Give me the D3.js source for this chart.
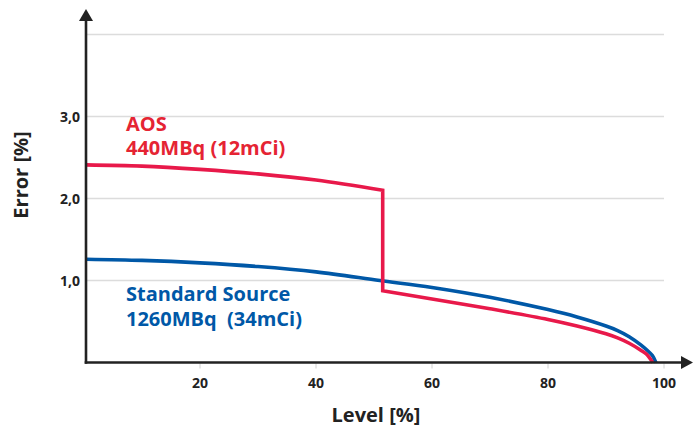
<!DOCTYPE html>
<html>
<head>
<meta charset="utf-8">
<script src="https://cdn.jsdelivr.net/npm/d3@7"></script>
<style>
  html, body { margin: 0; padding: 0; background: #fff; }
  svg { display: block; font-family: "Open Sans", "Noto Sans", sans-serif; }
</style>
</head>
<body>
<svg id="chart" width="693" height="427"></svg>
<script>
// ---- data ----
const xTicks = [20, 40, 60, 80, 100];
const xTickLabels = ["20", "40", "60", "80", "100"];
const yGrid = [1, 2, 3, 4];
const yTickValues = [1, 2, 3];
const yTickLabels = ["1,0", "2,0", "3,0"];

// AOS 440MBq (12mCi) – before the source switch
const aosHighLevel = [0.35, 10, 20, 30, 40, 51.5];
const aosHighError = [2.41, 2.395, 2.355, 2.30, 2.225, 2.10];
// AOS – after the switch
const aosLowLevel = [51.5, 60, 70, 80, 85, 90, 92, 94, 96, 97, 98.05];
const aosLowError = [0.875, 0.775, 0.655, 0.525, 0.445, 0.35, 0.30, 0.235, 0.15, 0.10, 0.0];

// Standard Source 1260MBq (34mCi)
const stdLevel = [0.35, 10, 20, 30, 40, 51, 60, 70, 80, 85, 90, 92, 94, 96, 97, 98, 98.6];
const stdError = [1.26, 1.245, 1.215, 1.17, 1.105, 1.00, 0.915, 0.795, 0.645, 0.555, 0.445, 0.39, 0.315, 0.215, 0.155, 0.085, 0.0];

const labels = {
  aos: ["AOS", "440MBq (12mCi)"],
  std: ["Standard Source", "1260MBq\u00a0 (34mCi)"]
};

// ---- drawing ----
const svg = d3.select("#chart");
const x = d3.scaleLinear().domain([0, 100]).range([84, 664]);
const y = d3.scaleLinear().domain([0, 4]).range([362.5, 34.5]);

const RED = "#e8194a";
const RED_TEXT = "#e52433";
const BLUE = "#0058a7";
const DARK = "#222222";

const axisX = x(0) + 2;
const axisY = y(0);

// gridlines
svg.append("g").selectAll("line").data(yGrid).join("line")
  .attr("x1", axisX).attr("x2", x(100))
  .attr("y1", d => y(d)).attr("y2", d => y(d))
  .attr("stroke", "#dcdcdc").attr("stroke-width", 1.5);

// x tick marks (light)
svg.append("g").selectAll("line").data(xTicks).join("line")
  .attr("x1", d => x(d)).attr("x2", d => x(d))
  .attr("y1", axisY + 1).attr("y2", axisY + 6)
  .attr("stroke", "#d0d0d0").attr("stroke-width", 1);

// x tick labels
svg.append("g").selectAll("text").data(xTicks).join("text")
  .attr("x", d => x(d)).attr("y", 388)
  .attr("text-anchor", "middle")
  .attr("font-size", 14).attr("font-weight", 700).attr("fill", DARK)
  .text((d, i) => xTickLabels[i]);

// y tick labels
svg.append("g").selectAll("text").data(yTickValues).join("text")
  .attr("x", 80).attr("y", d => y(d) + 5)
  .attr("text-anchor", "end")
  .attr("font-size", 14).attr("font-weight", 700).attr("fill", DARK)
  .text((d, i) => yTickLabels[i]);

// axis titles
svg.append("text")
  .attr("x", 376).attr("y", 422)
  .attr("text-anchor", "middle")
  .attr("font-size", 20).attr("font-weight", 700).attr("fill", DARK)
  .text("Level [%]");
svg.append("text")
  .attr("transform", "translate(28,175) rotate(-90)")
  .attr("text-anchor", "middle")
  .attr("font-size", 20).attr("font-weight", 700).attr("fill", DARK)
  .text("Error [%]");

// curves
const line = d3.line()
  .x(d => x(d[0])).y(d => y(d[1]))
  .curve(d3.curveCatmullRom.alpha(0.5));

const stdPts = stdLevel.map((v, i) => [v, stdError[i]]);
const aosHigh = aosHighLevel.map((v, i) => [v, aosHighError[i]]);
const aosLow = aosLowLevel.map((v, i) => [v, aosLowError[i]]);

svg.append("path")
  .attr("d", line(stdPts))
  .attr("fill", "none").attr("stroke", BLUE).attr("stroke-width", 3.6)
  .attr("stroke-linejoin", "miter");

svg.append("path")
  .attr("d", line(aosHigh) + line(aosLow).replace(/^M/, "L"))
  .attr("fill", "none").attr("stroke", RED).attr("stroke-width", 3.6)
  .attr("stroke-linejoin", "miter");

// axes (drawn on top)
svg.append("line")
  .attr("x1", axisX).attr("x2", axisX)
  .attr("y1", 20).attr("y2", axisY + 1.25)
  .attr("stroke", DARK).attr("stroke-width", 2.6);
svg.append("line")
  .attr("x1", axisX - 1.3).attr("x2", 684)
  .attr("y1", axisY).attr("y2", axisY)
  .attr("stroke", DARK).attr("stroke-width", 2.6);
// arrowheads
svg.append("path")
  .attr("d", `M${axisX},9 L${axisX + 7},21 L${axisX - 7},21 Z`)
  .attr("fill", DARK);
svg.append("path")
  .attr("d", `M693,${axisY} L681,${axisY - 6.5} L681,${axisY + 6.5} Z`)
  .attr("fill", DARK);

// series labels
const aosText = svg.append("text")
  .attr("font-size", 20).attr("font-weight", 700).attr("fill", RED_TEXT);
aosText.append("tspan").attr("x", 126).attr("y", 131).text(labels.aos[0]);
aosText.append("tspan").attr("x", 126).attr("y", 155).text(labels.aos[1]);

const stdText = svg.append("text")
  .attr("font-size", 20).attr("font-weight", 700).attr("fill", BLUE);
stdText.append("tspan").attr("x", 126).attr("y", 301).text(labels.std[0]);
stdText.append("tspan").attr("x", 126).attr("y", 326).text(labels.std[1]);
</script>
</body>
</html>
